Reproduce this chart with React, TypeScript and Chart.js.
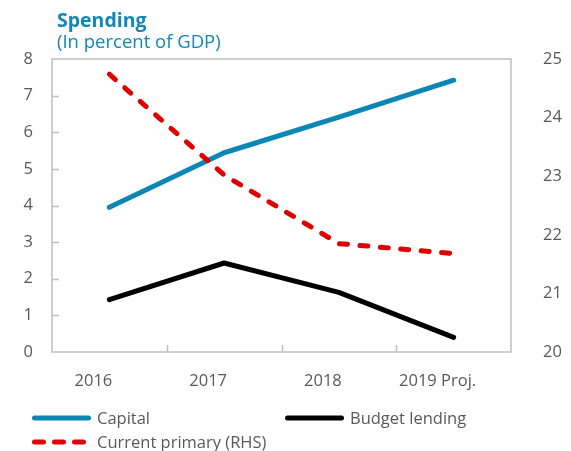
import React, { useEffect, useRef } from "react";
import { Chart, registerables } from "chart.js";

Chart.register(...registerables);

const categories = ["2016", "2017", "2018", "2019 Proj."];
const capital = [3.95, 5.44, 6.41, 7.42];
const budgetLending = [1.43, 2.43, 1.63, 0.4];
const currentPrimary = [24.74, 23.02, 21.85, 21.68];
const leftTicks = [0, 1, 2, 3, 4, 5, 6, 7, 8];
const rightTicks = [20, 21, 22, 23, 24, 25];
const seriesNames = ["Capital", "Budget lending", "Current primary (RHS)"];
const seriesColors = ["#0A87B4", "#000000", "#E00000"];
const titleText = "Spending";
const subtitleText = "(In percent of GDP)";

const FONT = "'Open Sans', sans-serif";
const GREY = "#595959";

const framePlugin = {
  id: "frame",
  beforeDatasetsDraw(chart: any) {
    const { ctx, chartArea, scales } = chart;
    const { left, top, right, bottom } = chartArea;
    ctx.save();
    ctx.strokeStyle = "#BFBFBF";
    ctx.lineWidth = 1.5;
    ctx.strokeRect(left, top, right - left, bottom - top);
    const y = scales.y;
    y.ticks.forEach((t: any) => {
      if (t.value > y.min && t.value < y.max) {
        const py = Math.round(y.getPixelForValue(t.value)) + 0.5;
        ctx.beginPath();
        ctx.moveTo(left, py);
        ctx.lineTo(left + 7, py);
        ctx.stroke();
      }
    });
    const x = scales.x;
    for (let i = 0; i < categories.length - 1; i++) {
      const px = Math.round((x.getPixelForValue(i) + x.getPixelForValue(i + 1)) / 2) + 0.5;
      ctx.beginPath();
      ctx.moveTo(px, bottom);
      ctx.lineTo(px, bottom - 7);
      ctx.stroke();
    }
    ctx.restore();
  },
};

const legendItems = [
  { idx: 0, left: 32, top: 418, dashed: false },
  { idx: 1, left: 285, top: 418, dashed: false },
  { idx: 2, left: 32, top: 442, dashed: true },
];

export default function App() {
  const ref = useRef<HTMLCanvasElement | null>(null);

  useEffect(() => {
    if (!ref.current) return;
    const chart = new Chart(ref.current, {
      type: "line",
      data: {
        labels: categories,
        datasets: [
          {
            label: seriesNames[0],
            data: capital,
            borderColor: seriesColors[0],
            backgroundColor: seriesColors[0],
            borderWidth: 5,
            borderCapStyle: "round",
            borderJoinStyle: "round",
            pointRadius: 0,
            yAxisID: "y",
            order: 1,
          },
          {
            label: seriesNames[1],
            data: budgetLending,
            borderColor: seriesColors[1],
            backgroundColor: seriesColors[1],
            borderWidth: 5,
            borderCapStyle: "round",
            borderJoinStyle: "round",
            pointRadius: 0,
            yAxisID: "y",
            order: 2,
          },
          {
            label: seriesNames[2],
            data: currentPrimary,
            borderColor: seriesColors[2],
            backgroundColor: seriesColors[2],
            borderWidth: 5,
            borderDash: [8, 12.5],
            borderCapStyle: "round",
            borderJoinStyle: "round",
            pointRadius: 0,
            yAxisID: "y2",
            order: 0,
          },
        ],
      },
      options: {
        responsive: false,
        animation: false,
        layout: { padding: { top: 59, left: 0, right: 0, bottom: 0 } },
        plugins: {
          legend: { display: false },
          title: { display: false },
          tooltip: { enabled: false },
        },
        scales: {
          x: {
            type: "category",
            offset: true,
            grid: { display: false, drawTicks: false },
            border: { display: false },
            ticks: {
              font: { family: FONT, size: 16.5 },
              color: GREY,
              padding: 19,
              labelOffset: -16,
              maxRotation: 0,
              autoSkip: false,
            },
            afterFit: (s: any) => {
              s.height = 99;
            },
          },
          y: {
            position: "left",
            min: 0,
            max: 8,
            grid: { display: false, drawTicks: false },
            border: { display: false },
            ticks: {
              font: { family: FONT, size: 16.5 },
              color: GREY,
              padding: 19,
            },
            afterBuildTicks: (s: any) => {
              s.ticks = leftTicks.map((v) => ({ value: v }));
            },
            afterFit: (s: any) => {
              s.width = 52;
            },
          },
          y2: {
            position: "right",
            min: 20,
            max: 25,
            grid: { display: false, drawTicks: false },
            border: { display: false },
            ticks: {
              font: { family: FONT, size: 16.5 },
              color: GREY,
              padding: 32,
            },
            afterBuildTicks: (s: any) => {
              s.ticks = rightTicks.map((v) => ({ value: v }));
            },
            afterFit: (s: any) => {
              s.width = 60;
            },
          },
        },
      } as any,
      plugins: [framePlugin],
    });
    return () => chart.destroy();
  }, []);

  return (
    <div
      style={{
        position: "fixed",
        left: 0,
        top: 0,
        width: 571,
        height: 451,
        background: "#ffffff",
        fontFamily: FONT,
      }}
    >
      <canvas ref={ref} width={571} height={451} style={{ position: "absolute", left: 0, top: 0 }} />
      <div
        style={{
          position: "absolute",
          left: 57,
          top: 9.5,
          fontSize: 19.5,
          lineHeight: "19.5px",
          fontWeight: 700,
          color: "#1187B8",
          whiteSpace: "nowrap",
        }}
      >
        {titleText}
      </div>
      <div
        style={{
          position: "absolute",
          left: 57,
          top: 32,
          fontSize: 18.5,
          lineHeight: "18.5px",
          color: "#1187B8",
          whiteSpace: "nowrap",
        }}
      >
        {subtitleText}
      </div>
      {legendItems.map((it) => (
        <div
          key={it.idx}
          style={{
            position: "absolute",
            left: it.left,
            top: it.top - 10,
            height: 20,
            display: "flex",
            alignItems: "center",
            whiteSpace: "nowrap",
          }}
        >
          <svg width={59} height={8} style={{ display: "block" }}>
            {it.dashed ? (
              <line
                x1={2.5}
                y1={4}
                x2={51.5}
                y2={4}
                stroke={seriesColors[it.idx]}
                strokeWidth={5}
                strokeLinecap="round"
                strokeDasharray="9 11"
              />
            ) : (
              <line
                x1={2.5}
                y1={4}
                x2={56.5}
                y2={4}
                stroke={seriesColors[it.idx]}
                strokeWidth={5}
                strokeLinecap="round"
              />
            )}
          </svg>
          <span style={{ marginLeft: 6, fontSize: 16.5, lineHeight: "20px", color: GREY }}>
            {seriesNames[it.idx]}
          </span>
        </div>
      ))}
    </div>
  );
}
